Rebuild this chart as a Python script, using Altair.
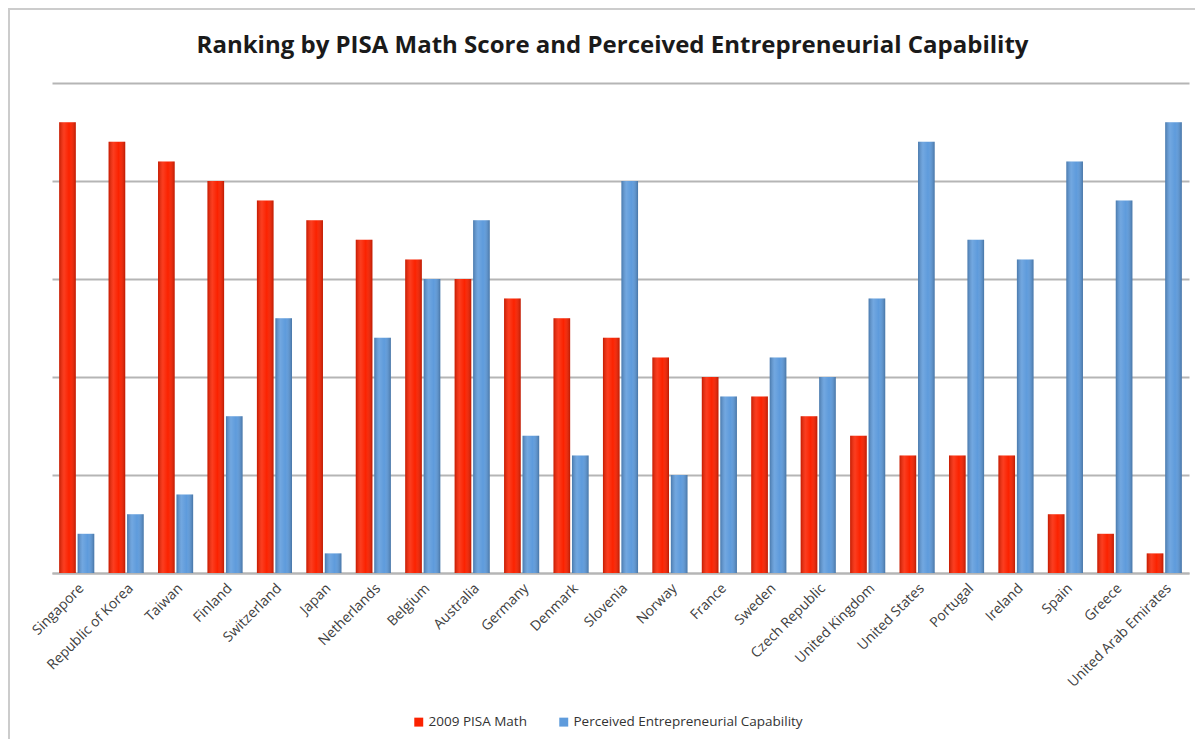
import altair as alt
import pandas as pd

countries = ["Singapore", "Republic of Korea", "Taiwan", "Finland", "Switzerland", "Japan",
             "Netherlands", "Belgium", "Australia", "Germany", "Denmark", "Slovenia", "Norway",
             "France", "Sweden", "Czech Republic", "United Kingdom", "United States", "Portugal",
             "Ireland", "Spain", "Greece", "United Arab Emirates"]
pisa_math = [23, 22, 21, 20, 19, 18, 17, 16, 15, 14, 13, 12, 11, 10, 9, 8, 7, 6, 6, 6, 3, 2, 1]
entrepreneurial = [2, 3, 4, 8, 13, 1, 12, 15, 18, 7, 6, 20, 5, 9, 11, 10, 14, 22, 17, 16, 21, 19, 23]
series_names = ["2009 PISA Math", "Perceived Entrepreneurial Capability"]
series_colors = ["#fb2200", "#5e9bdc"]

rows = []
for c, a, b in zip(countries, pisa_math, entrepreneurial):
    rows.append({"country": c, "series": series_names[0], "rank": a})
    rows.append({"country": c, "series": series_names[1], "rank": b})
df = pd.DataFrame(rows)

FONT = "Open Sans"

x_enc = alt.X("country:N", sort=countries, title=None,
              scale=alt.Scale(paddingInner=0.29, paddingOuter=0.145),
              axis=alt.Axis(labelAngle=-45, labelFont=FONT, labelFontSize=14,
                            labelColor="#404040", ticks=False, domainColor="#b5b5b5",
                            domainWidth=2, labelPadding=8, labelAlign="right",
                            labelBaseline="top", labelLimit=300))
xo_enc = alt.XOffset("series:N", sort=series_names, scale=alt.Scale(paddingInner=0.1))
y_enc = alt.Y("rank:Q", title=None, scale=alt.Scale(domain=[0, 25], nice=False),
              axis=alt.Axis(values=[0, 5, 10, 15, 20, 25], labels=False, ticks=False,
                            domain=False, gridColor="#b5b5b5", gridWidth=2))

bars = alt.Chart(df).mark_bar().encode(
    x=x_enc, xOffset=xo_enc, y=y_enc,
    color=alt.Color("series:N", sort=series_names,
                    scale=alt.Scale(domain=series_names, range=series_colors),
                    legend=alt.Legend(title=None, orient="none", direction="horizontal",
                                      legendX=360, legendY=632, symbolType="square",
                                      symbolSize=80, labelFont=FONT, labelFontSize=13.5,
                                      labelColor="#333333", columnPadding=30,
                                      labelOffset=3, symbolStrokeWidth=0, labelLimit=500)),
)

shade = alt.Chart(df).mark_bar(
    fill=alt.Gradient(
        gradient="linear", x1=0, x2=1, y1=0, y2=0,
        stops=[alt.GradientStop(color="rgba(0,0,0,0.22)", offset=0),
               alt.GradientStop(color="rgba(255,255,255,0.12)", offset=0.3),
               alt.GradientStop(color="rgba(255,255,255,0.0)", offset=0.6),
               alt.GradientStop(color="rgba(0,0,0,0.25)", offset=1)])
).encode(x=x_enc, xOffset=xo_enc, y=y_enc)

frame = alt.Chart(pd.DataFrame({"a": [0]})).mark_rect(
    fill="transparent", stroke="#cccccc", strokeWidth=2
).encode(x=alt.value(-43), x2=alt.value(1300), y=alt.value(-74), y2=alt.value(900))

chart = alt.layer(frame, bars, shade).properties(
    width=1137, height=490,
    padding={"left": 44, "top": 75, "right": 6, "bottom": 166},
    autosize=alt.AutoSizeParams(type="none"),
    title=alt.TitleParams("Ranking by PISA Math Score and Perceived Entrepreneurial Capability",
                          font=FONT, fontSize=24, fontWeight="bold", color="#1a1a1a",
                          anchor="middle", offset=-69, baseline="alphabetic", dx=-8,
                          frame="group"),
).configure(background="white", view=alt.ViewConfig(stroke="transparent", strokeWidth=0))

chart.save("out.html", embed_options={"renderer": "svg", "actions": False})
